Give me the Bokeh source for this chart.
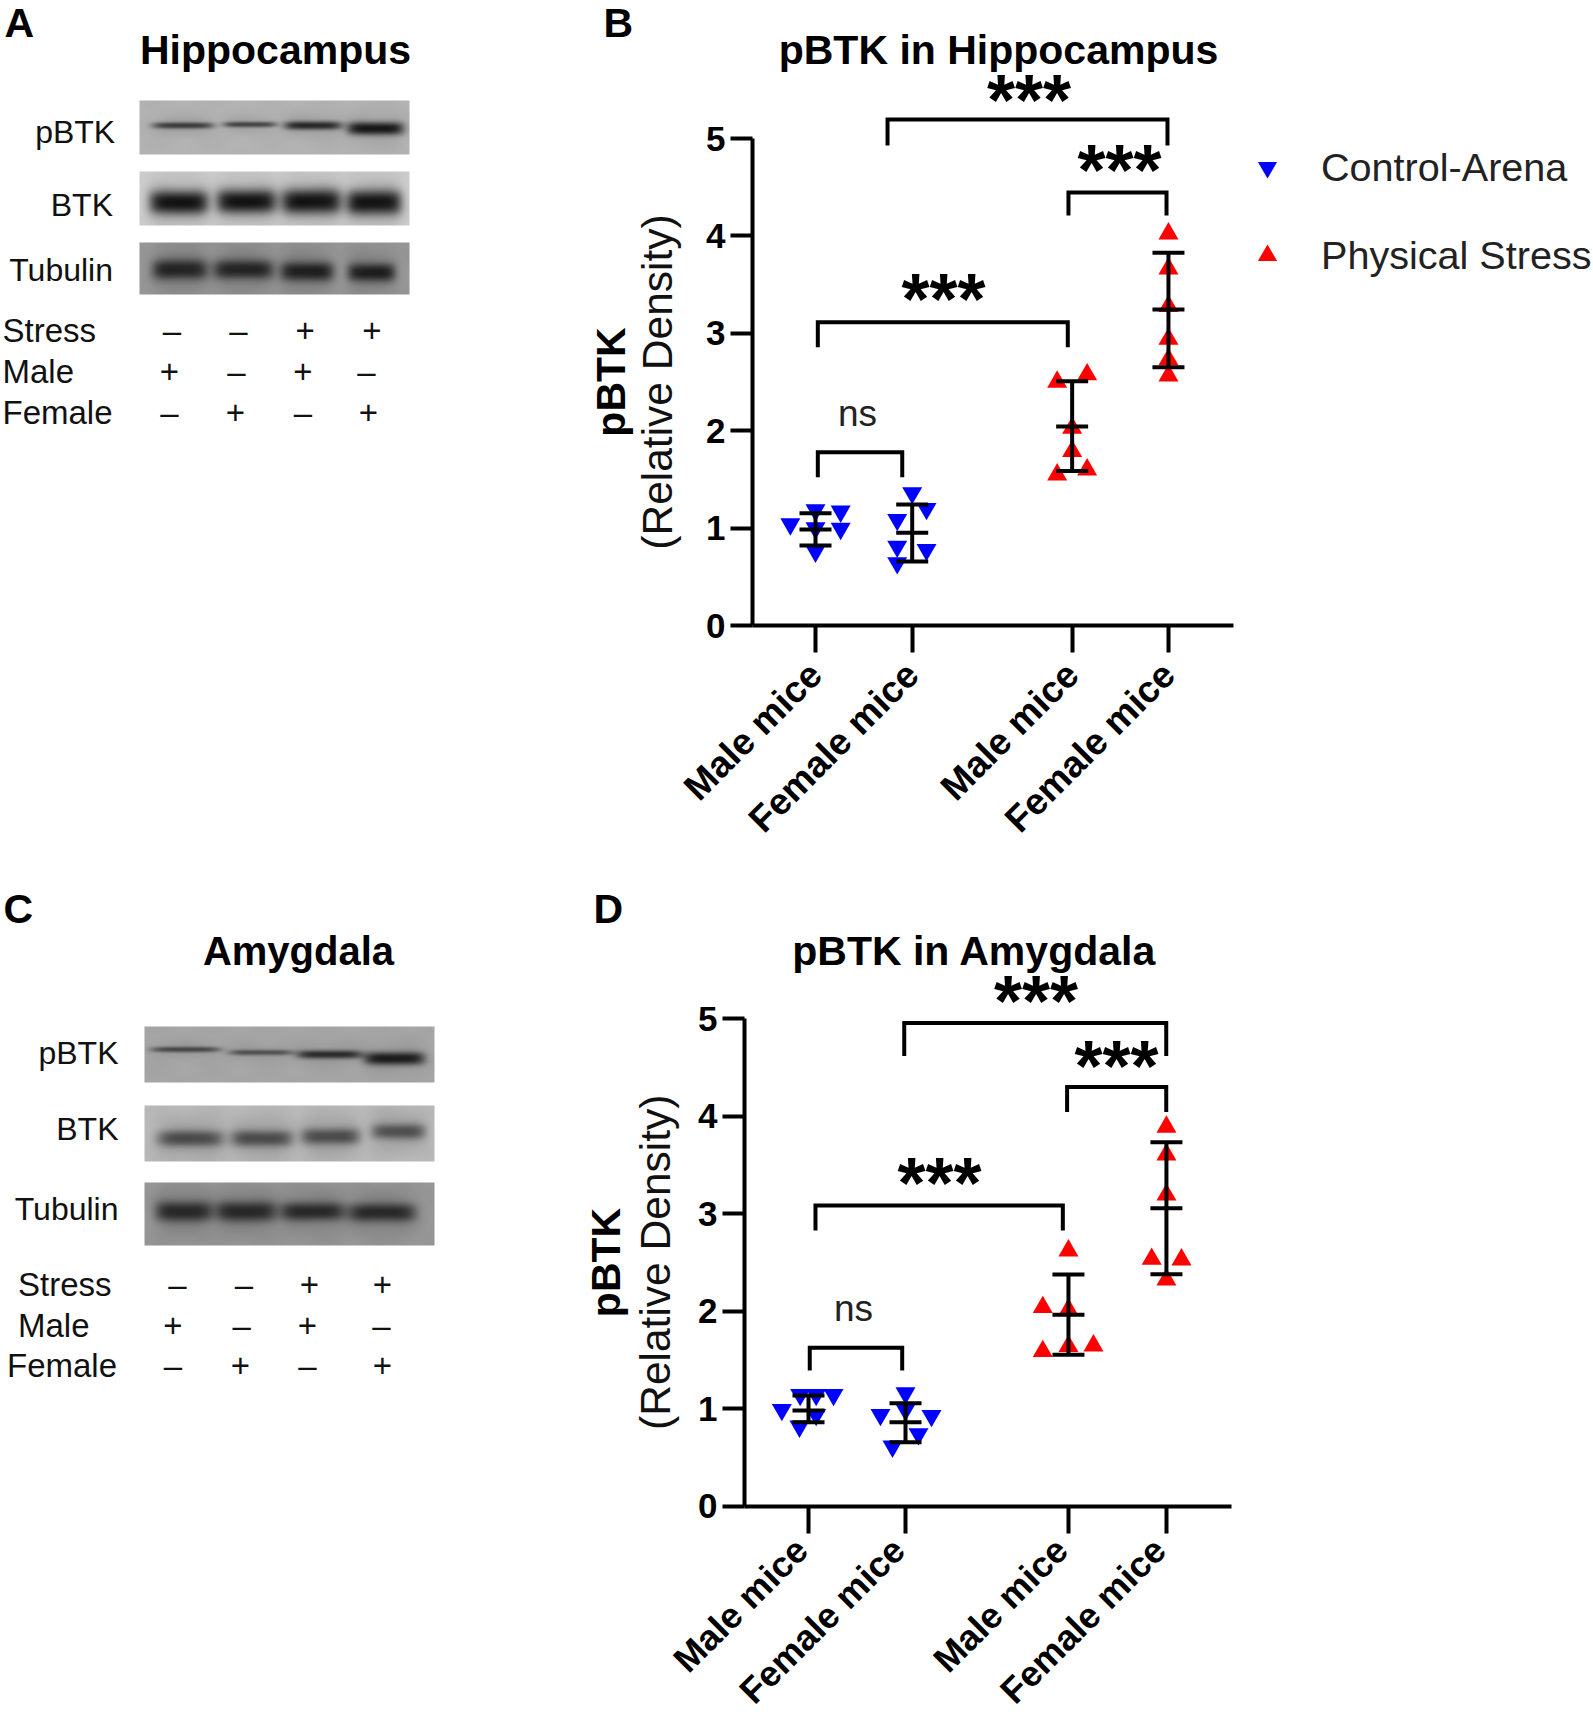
import math
import numpy as np
from bokeh.embed import file_html
from bokeh.resources import INLINE
from bokeh.core.properties import value
from bokeh.layouts import column, row
from bokeh.models import (FixedTicker, Legend, LegendItem, LinearColorMapper, Range1d)
from bokeh.plotting import figure

# ---------- data ----------
groups = ["Male mice", "Female mice", "Male mice", "Female mice"]

b_ticks = [1.0, 2.0, 3.654, 4.65]
b_control_x = [1, 1.26, .74, 1.26, 1, 1, 2, 2.148, 1.845, 1.845, 2.148, 1.845]
b_control_y = [1.185, 1.172, 1.041, .995, 1.0, .761, 1.36, 1.199, 1.086, .812, .778, .641]
b_stress_x = [3.809, 3.499, 3.654, 3.654, 3.499, 3.809, 4.65, 4.65, 4.65, 4.65, 4.65, 4.65]
b_stress_y = [2.576, 2.501, 2.028, 1.789, 1.549, 1.6, 4.023, 3.664, 3.278, 2.942, 2.73, 2.565]
b_mean = [.986, .951, 2.043, 3.244]
b_high = [1.153, 1.242, 2.508, 3.826]
b_low = [.821, .657, 1.585, 2.652]

d_ticks = [1.0, 2.0, 3.68, 4.69]
d_control_x = [.914, 1.258, .725, 1.079, 1.079, .907, 2, 2, 1.742, 2.268, 2.134, 1.866]
d_control_y = [1.141, 1.141, .987, 1.141, .936, .817, 1.158, .987, .936, .926, .738, .612]
d_stress_x = [3.68, 3.415, 3.68, 3.415, 3.68, 3.938, 4.69, 4.69, 4.69, 4.538, 4.845, 4.69]
d_stress_y = [2.619, 2.039, 2.014, 1.587, 1.639, 1.645, 3.888, 3.604, 3.193, 2.534, 2.527, 2.322]
d_mean = [.979, .860, 1.961, 3.055]
d_high = [1.133, 1.054, 2.374, 3.732]
d_low = [.860, .655, 1.551, 2.378]

# brackets: x-left, x-right, y-top, y-left-leg-end, y-right-leg-end
b_brackets = [(1.024, 1.897, 1.78, 1.523, 1.523), (1.024, 3.609, 3.114, 2.857, 2.857),
              (3.616, 4.63, 4.445, 4.21, 4.21), (1.745, 4.64, 5.195, 4.928, 4.928)]
b_sig = [("ns", 1.434, 2.177), ("***", 2.324, 3.454), ("***", 4.144, 4.778), ("***", 3.208, 5.497)]
d_brackets = [(1.013, 1.966, 1.623, 1.39, 1.39), (1.072, 3.622, 3.082, 2.826, 2.826),
              (3.666, 4.688, 4.298, 4.042, 4.042), (1.987, 4.688, 4.954, 4.615, 4.615)]
d_sig = [("ns", 1.464, 2.025), ("***", 2.35, 3.414), ("***", 4.175, 4.614), ("***", 3.346, 5.287)]

row_names = ["Stress", "Male", "Female"]
blot_names = ["pBTK", "BTK", "Tubulin"]
matrix = [["–", "–", "+", "+"], ["+", "–", "+", "–"], ["–", "+", "–", "+"]]

FONT = "Liberation Sans"
PAGE_W, PAGE_H, SPLIT_X, SPLIT_Y = 1593, 1714, 580, 860


def blot(p, x0, x1, y0, y1, bg, bands):
    """bands: (left, right, centre-y, half thickness, strength, halo)"""
    w, h = int(x1 - x0), int(y1 - y0)
    xx, yy = np.meshgrid(np.arange(w) + x0 + .5, np.arange(h) + y0 + .5)
    img = np.full((h, w), float(bg))
    img += np.sin(xx / 9.0) * np.sin(yy / 7.0) * 2.0
    for left, right, cy, t, strength, halo in bands:
        cx, hw = (left + right) / 2, (right - left) / 2 * 1.05
        dx = np.abs((xx - cx) / hw)
        core = np.exp(-(dx ** 6 + np.abs((yy - cy) / t) ** 2.4))
        glow = np.exp(-(dx ** 4 + ((yy - cy) / (t * 2.2 + 3)) ** 2))
        img -= strength * core + halo * glow
    img = np.clip(img, 0, 255)
    mapper = LinearColorMapper(palette=[f"#{i:02x}{i:02x}{i:02x}" for i in range(256)],
                               low=0, high=255)
    p.image(image=[img], x=x0, y=y0, dw=w, dh=h, color_mapper=mapper)


def txt(p, x, y, text, size, style="normal", align="left", base="alphabetic", color="black", **kw):
    p.text(x, y, text=text, text_font=value(FONT), text_font_size=size, text_font_style=style,
           text_align=align, text_baseline=base, text_color=color, **kw)


def left_panel(height, page_top, letter, letter_xy, title, title_xy, title_size, blots, lab_x, lab_y,
               row_x, row_y, mx, blot_box):
    p = figure(width=SPLIT_X, height=height, output_backend="svg", toolbar_location=None,
               x_range=Range1d(0, SPLIT_X), y_range=Range1d(page_top + height, page_top),
               min_border=0, margin=0)
    p.axis.visible = False
    p.grid.visible = False
    p.outline_line_color = None
    for (by0, by1, bg, bands) in blots:
        blot(p, blot_box[0], blot_box[1], by0, by1, bg, bands)
    txt(p, [title_xy[0]], [title_xy[1]], [title], title_size, "bold", "center")
    txt(p, lab_x, lab_y, blot_names, "32px", align="right", base="middle", color="#111111")
    txt(p, row_x, row_y, row_names, "33px", base="middle", color="#111111")
    for r in range(3):
        txt(p, mx[r], [row_y[r]] * 4, matrix[r], "33px", align="center", base="middle",
            color="#111111")
    txt(p, [letter_xy[0]], [letter_xy[1]], [letter], "41px", "bold", base="middle")
    return p


def chart_panel(height, page_top, axis_x, y_zero, y_px, x_one, x_px, axis_end,
                title, title_xy, ticks, cx, cy, sx, sy, mean, high, low,
                brackets, sig, letter, letter_xy, label_standoff, second_x, x_standoff,
                x_font="37px", pad="", legend=False):
    u = lambda px: 1 + (px - x_one) / x_px
    v = lambda py: (y_zero - py) / y_px
    p = figure(width=PAGE_W - SPLIT_X, height=height, output_backend="svg", toolbar_location=None,
               x_range=Range1d(u(SPLIT_X), u(PAGE_W)),
               y_range=Range1d(v(page_top + height), v(page_top)),
               min_border=0, margin=0)
    p.grid.visible = False
    p.outline_line_color = None

    p.yaxis.fixed_location = u(axis_x)
    p.yaxis.ticker = FixedTicker(ticks=[0, 1, 2, 3, 4, 5])
    p.yaxis.bounds = (0, 5)
    p.yaxis.axis_line_width = 4
    p.yaxis.major_tick_line_width = 4
    p.yaxis.major_tick_out = 22
    p.yaxis.major_tick_in = 0
    p.yaxis.minor_tick_line_color = None
    p.yaxis.major_label_standoff = 5
    p.yaxis.major_label_text_font = FONT
    p.yaxis.major_label_text_font_size = "35px"
    p.yaxis.major_label_text_font_style = "bold"
    p.yaxis.major_label_text_color = "black"
    p.yaxis.axis_label = "pBTK"
    p.yaxis.axis_label_text_font = FONT
    p.yaxis.axis_label_text_font_size = "41px"
    p.yaxis.axis_label_text_font_style = "bold"
    p.yaxis.axis_label_text_color = "black"
    p.yaxis.axis_label_standoff = label_standoff
    txt(p, [u(second_x)], [2.5], ["(Relative Density)"], "42.5px", align="center", base="middle",
        color="#111111", angle=math.pi / 2)

    p.xaxis.fixed_location = 0
    p.xaxis.ticker = FixedTicker(ticks=ticks)
    p.xaxis.major_label_overrides = {t: g + pad for t, g in zip(ticks, groups)}
    p.xaxis.bounds = (u(axis_x), u(axis_end))
    p.xaxis.axis_line_width = 4
    p.xaxis.major_tick_line_width = 4
    p.xaxis.major_tick_out = 27
    p.xaxis.major_tick_in = 0
    p.xaxis.minor_tick_line_color = None
    p.xaxis.major_label_orientation = math.pi / 4
    p.xaxis.major_label_standoff = x_standoff
    p.xaxis.major_label_text_font = FONT
    p.xaxis.major_label_text_font_size = x_font
    p.xaxis.major_label_text_font_style = "bold"
    p.xaxis.major_label_text_color = "black"

    r_c = p.scatter(cx, cy, marker="inverted_triangle", size=20, fill_color="#0000ff",
                    line_color=None)
    r_s = p.scatter(sx, sy, marker="triangle", size=20, fill_color="#ff0000", line_color=None)

    # whiskers
    cap = 16 / x_px
    p.segment(ticks, high, ticks, low, line_color="black", line_width=4)
    for vals in (mean, high, low):
        p.segment([t - cap for t in ticks], vals, [t + cap for t in ticks], vals,
                  line_color="black", line_width=4)

    # brackets
    for (xl, xr, yt, yl, yr) in brackets:
        p.line([xl, xl, xr, xr], [yl, yt, yt, yr], line_color="black", line_width=4,
               line_join="miter")
    for (s, sxx, syy) in sig:
        if s == "ns":
            txt(p, [sxx], [syy], [s], "37px", align="center", base="middle", color="#222222")
        else:
            txt(p, [sxx], [syy], [s], "72px", "bold", "center", y_offset=10)

    txt(p, [u(title_xy[0])], [v(title_xy[1])], [title], "41px", "bold", "center")
    txt(p, [u(letter_xy[0])], [v(letter_xy[1])], [letter], "41px", "bold", base="middle")
    if legend:
        lg = Legend(items=[LegendItem(label="Control-Arena", renderers=[r_c]),
                           LegendItem(label="Physical Stress", renderers=[r_s])],
                    location=(663, 581), orientation="vertical", glyph_width=48, glyph_height=48,
                    label_standoff=30, spacing=40, padding=0, margin=0,
                    background_fill_alpha=0, border_line_color=None,
                    label_text_font=FONT, label_text_font_size="39.6px",
                    label_text_color="#222222", label_text_baseline="middle")
        p.add_layout(lg, "center")
    return p


a_blots = [
    (100, 154, 178, [(153, 212, 125, 3.2, 100, 18), (224, 275, 124, 2.8, 95, 15),
                     (285, 340, 125, 4.2, 120, 18), (348, 402, 128, 6.5, 140, 15)]),
    (171, 225, 205, [(150, 207, 202, 12, 160, 25), (217, 275, 201, 12, 160, 25),
                     (282, 340, 201, 12.5, 160, 25), (347, 400, 202, 12.5, 160, 25)]),
    (242, 294, 150, [(153, 206, 269, 10, 90, 25), (214, 272, 269, 9.5, 90, 25),
                     (281, 332, 271, 9.5, 95, 25), (348, 394, 272, 9, 95, 25)]),
]
c_blots = [
    (1026, 1082, 165, [(152, 218, 1049, 2.8, 85, 10), (230, 291, 1052, 2.8, 75, 10),
                       (298, 360, 1054, 4.2, 110, 12), (365, 423, 1058, 6.5, 125, 12)]),
    (1105, 1161, 185, [(158, 222, 1138, 8, 80, 30), (232, 291, 1138, 8, 80, 30),
                       (302, 358, 1136, 8, 80, 30), (372, 424, 1131, 7.5, 75, 30)]),
    (1182, 1245, 150, [(156, 211, 1211, 10, 85, 25), (216, 275, 1211, 10, 85, 25),
                       (281, 343, 1211, 9, 85, 25), (349, 414, 1212, 9, 85, 25)]),
]

pa = left_panel(SPLIT_Y, 0, "A", (4, 22), "Hippocampus", (275, 49), "41px", a_blots,
                [114.7, 112.5, 112.5], [131, 204.5, 269], [2, 2, 2], [330, 371, 412],
                [[171.4, 238, 304.7, 371.3], [169, 236, 302.5, 366], [169, 235, 302.5, 368]],
                (139, 409))
pc = left_panel(PAGE_H - SPLIT_Y, SPLIT_Y, "C", (3, 908), "Amygdala", (298, 950), "40px", c_blots,
                [118, 118, 118], [1052, 1128, 1208], [17.5, 17.5, 6.5], [1284, 1325, 1365],
                [[177, 243.5, 309, 382], [172.5, 241.3, 307, 381], [172.5, 240, 307, 382]],
                (144, 434))
pb = chart_panel(SPLIT_Y, 0, 752, 625, 97.4, 815, 96.7, 1233, "pBTK in Hippocampus",
                 (998, 49), b_ticks, b_control_x, b_control_y, b_stress_x, b_stress_y,
                 b_mean, b_high, b_low, b_brackets, b_sig, "B", (603, 22), 69, 657, 16, legend=True)
pd_ = chart_panel(PAGE_H - SPLIT_Y, SPLIT_Y, 744, 1505.5, 97.5, 808, 97, 1231,
                  "pBTK in Amygdala", (974, 950), d_ticks, d_control_x, d_control_y,
                  d_stress_x, d_stress_y, d_mean, d_high, d_low, d_brackets, d_sig, "D",
                  (593, 908), 66, 655, 4, x_font="36px", pad="\u00a0")

page = row(column(pa, pc, spacing=0, margin=0), column(pb, pd_, spacing=0, margin=0),
           spacing=0, margin=0)
open("out.html", "w").write(file_html(page, INLINE))
